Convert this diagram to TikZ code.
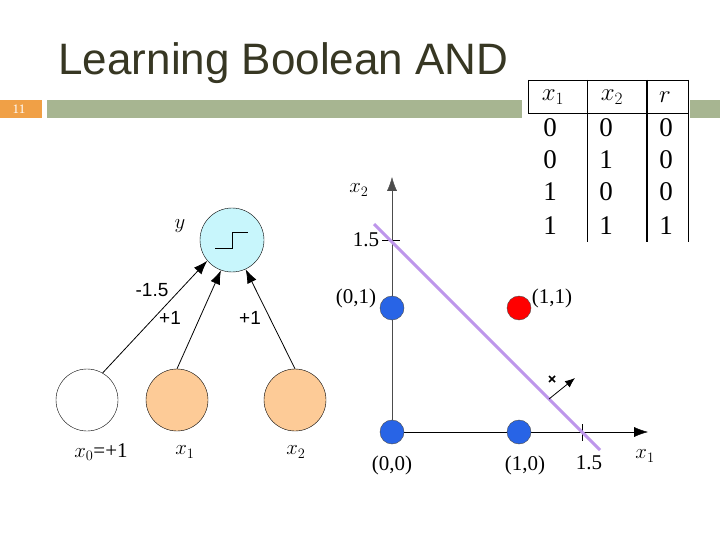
\documentclass[tikz,border=0pt]{standalone}
\usepackage{fontspec}
\setmainfont{Liberation Serif}
\newfontfamily\sans{Liberation Sans}
\usetikzlibrary{arrows.meta}
\definecolor{titlec}{RGB}{55,55,35}
\definecolor{barg}{RGB}{167,181,145}
\definecolor{baro}{RGB}{240,160,70}
\definecolor{cyanc}{RGB}{200,246,252}
\definecolor{orangec}{RGB}{253,203,151}
\definecolor{bluec}{RGB}{40,100,230}
\definecolor{purpc}{RGB}{190,150,235}
\tikzset{unit/.style={circle,draw,minimum size=62pt,inner sep=0pt},
 dot/.style={circle,draw=black!70,minimum size=24pt,inner sep=0pt},
 lab/.style={font=\fontsize{21}{21}\selectfont},
 wt/.style={font=\sans\fontsize{19}{19}\selectfont},
 tab/.style={font=\fontsize{27}{27}\selectfont},
 arr/.style={-{Latex[length=14pt,width=10pt]},thick}}
\begin{document}
\begin{tikzpicture}[x=1pt,y=-1pt]
\useasboundingbox (0,0) rectangle (720,540);
\fill[white] (0,0) rectangle (720,540);
\node[anchor=base west,text=titlec,font=\sans\fontsize{44}{44}\selectfont] (title) at (55,75) {Learning Boolean AND};
\fill[baro] (0,100) rectangle (42,118);
\node[text=white,font=\fontsize{13}{13}\selectfont] (num) at (19,109) {11};
\fill[barg] (47,100) rectangle (522,118);
\fill[barg] (690,100) rectangle (720,118);
% table
\draw[thick] (528,80) -- (688,80);
\draw[thick] (528,80) -- (528,113);
\draw[thick] (528,113) -- (688,113);
\draw[thick] (587,80) -- (587,242);
\draw[line width=1.6pt] (647,80) -- (647,242);
\draw[thick] (688,80) -- (688,242);
\foreach \t/\x in {{$x_1$}/553,{$x_2$}/612,{$r$}/665}
  \node[tab] at (\x,97) {\t};
\foreach \a/\b/\c/\y in {0/0/0/128,0/1/0/160,1/0/0/192,1/1/1/226}{
  \node[tab] at (550,\y) {\a};
  \node[tab] at (606,\y) {\b};
  \node[tab] at (666,\y) {\c};}
% network
\node[unit,fill=cyanc,minimum size=64pt] (y) at (232,240) {};
\draw[thick] (215,248) -- (232,248) -- (232,232) -- (248,232);
\node[unit,fill=white] (x0) at (87,400) {};
\node[unit,fill=orangec] (x1) at (177,400) {};
\node[unit,fill=orangec] (x2) at (295,400) {};
\draw[arr] (x0.60) -- (y.220);
\draw[arr] (x1.north) -- (y.250);
\draw[arr] (x2.north) -- (y.295);
\node[lab] (ly) at (180,226) {$y$};
\node[lab] (l0) at (101,452) {$x_0$=+1};
\node[lab] (l1) at (185,452) {$x_1$};
\node[lab] (l2) at (296,452) {$x_2$};
\node[wt] (w0) at (152,290) {-1.5};
\node[wt] (w1) at (170,318) {+1};
\node[wt] (w2) at (250,318) {+1};
% plot
\coordinate (o) at (392,432);
\coordinate (xe) at (648,432);
\coordinate (ye) at (392,177);
\draw[arr,thin,black!70] (o) -- (ye);
\draw[arr,thin] (o) -- (xe);
\draw (382,240) -- (400,240);
\draw (582,424) -- (582,441);
\draw[purpc,line width=3pt] (374,224) -- (600,450);
\node[dot,fill=bluec] (p00) at (392,432) {};
\node[dot,fill=bluec] (p10) at (519,432) {};
\node[dot,fill=bluec] (p01) at (392,308) {};
\node[dot,fill=red] (p11) at (519,308) {};
\node[lab] (lx2) at (359,190) {$x_2$};
\node[lab] (l15y) at (366,240) {1.5};
\node[lab] (l01) at (356,298) {(0,1)};
\node[lab] (l11) at (552,298) {(1,1)};
\node[lab] (l00) at (392,465) {(0,0)};
\node[lab] (l10) at (525,465) {(1,0)};
\node[lab] (l15x) at (589,463) {1.5};
\node[lab] (lx1) at (645,456) {$x_1$};
\coordinate (ws) at (549,399);
\coordinate (we) at (575,378);
\draw[-{Latex[length=10pt,width=8pt]},thick] (ws) -- (we);
\draw[line width=1.5pt] (549,376) -- (555,382) (549,382) -- (555,376);
\end{tikzpicture}
\end{document}
